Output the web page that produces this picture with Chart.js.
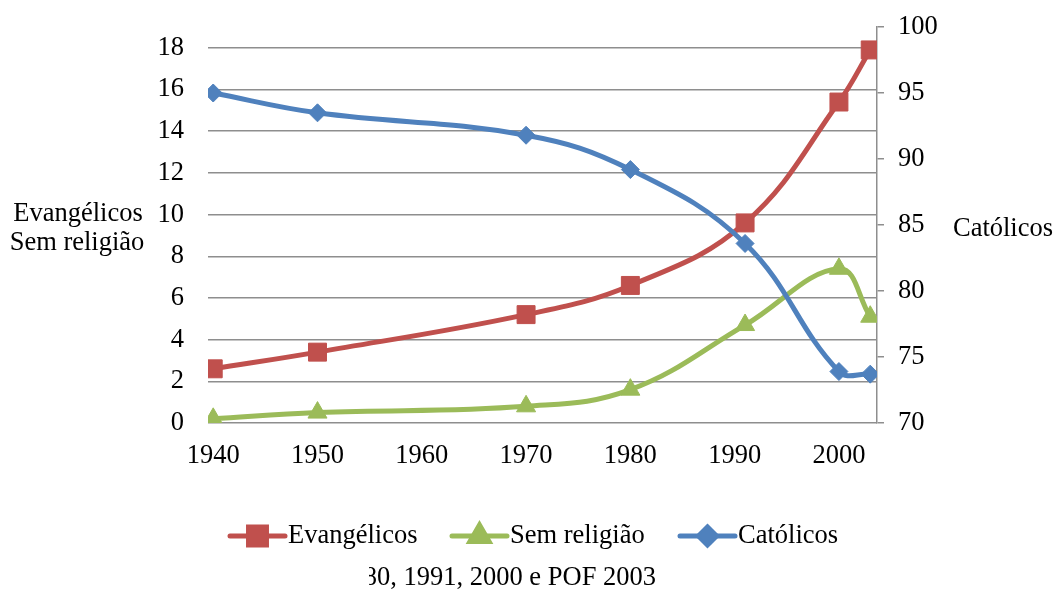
<!DOCTYPE html>
<html><head><meta charset="utf-8">
<style>html,body{margin:0;padding:0;background:#fff;} #wrap{width:1058px;height:592px;position:relative;}</style>
<script src="https://cdn.jsdelivr.net/npm/chart.js@4.4.1/dist/chart.umd.min.js"></script>
</head><body><div id="wrap"><canvas id="c" width="1058" height="592"></canvas></div>
<script>
const years = [1940, 1950, 1970, 1980, 1991, 2000, 2003];
const evangelicos = [2.6, 3.4, 5.2, 6.6, 9.6, 15.4, 17.9];
const semReligiao = [0.2, 0.5, 0.8, 1.6, 4.7, 7.4, 5.1];
const catolicos = [95.0, 93.5, 91.8, 89.2, 83.6, 73.9, 73.7];
const xTicks = [1940, 1950, 1960, 1970, 1980, 1990, 2000];
const leftTicks = [0, 2, 4, 6, 8, 10, 12, 14, 16, 18];
const rightTicks = [70, 75, 80, 85, 90, 95, 100];
const seriesNames = ['Evangélicos', 'Sem religião', 'Católicos'];
const leftTitle = ['Evangélicos', 'Sem religião'];
const rightTitle = 'Católicos';
const sourceNote = '80, 1991, 2000 e POF 2003';

const RED = '#C0504D', GREEN = '#9BBB59', BLUE = '#4F81BD', GRID = '#8e8e8e';
const FONT = '"Liberation Serif", "Times New Roman", serif';
const FS = 26.5;

function pts(vals) { return years.map((y, i) => ({ x: y, y: vals[i] })); }

const styles = [
  { color: RED, pointStyle: 'rect', radius: 12.7 },
  { color: GREEN, pointStyle: 'triangle', radius: 11 },
  { color: BLUE, pointStyle: 'rectRot', radius: 9 }
];

function ds(label, vals, st, axis, order) {
  return {
    label, data: pts(vals), yAxisID: axis, order,
    borderColor: st.color, backgroundColor: st.color, borderWidth: 5,
    pointStyle: st.pointStyle, pointRadius: st.radius, pointHoverRadius: st.radius,
    pointBorderWidth: 1, pointBackgroundColor: st.color, pointBorderColor: st.color,
    tension: 0.4, fill: false
  };
}

function noPad(s) { s.paddingTop = 0; s.paddingBottom = 0; s.paddingLeft = 0; s.paddingRight = 0; }

const extras = {
  id: 'extras',
  afterDraw(chart) {
    const ctx = chart.ctx;
    ctx.save();
    ctx.fillStyle = '#000';
    ctx.font = FS + 'px ' + FONT;
    ctx.textBaseline = 'middle';
    ctx.textAlign = 'center';
    ctx.fillText(leftTitle[0], 78, 214);
    ctx.fillText(leftTitle[1], 77, 243);
    ctx.fillText(rightTitle, 1003, 229);
    // legend
    const lx = [[230, 285, 288], [452, 507, 510], [680, 735, 738]];
    const ly = 536;
    ctx.textAlign = 'left';
    for (let i = 0; i < 3; i++) {
      const st = styles[i];
      ctx.strokeStyle = st.color; ctx.lineWidth = 5; ctx.lineCap = 'round';
      ctx.beginPath(); ctx.moveTo(lx[i][0], ly); ctx.lineTo(lx[i][1], ly); ctx.stroke();
      ctx.fillStyle = st.color;
      Chart.helpers.drawPoint(ctx, { pointStyle: st.pointStyle, radius: st.radius, borderWidth: 1, rotation: 0 }, (lx[i][0] + lx[i][1]) / 2, ly);
      ctx.fill();
      ctx.fillStyle = '#000';
      ctx.fillText(seriesNames[i], lx[i][2], ly);
    }
    // source note (left edge cropped as in the reference)
    const w = ctx.measureText(sourceNote).width;
    const sx = 656 - w;
    ctx.beginPath(); ctx.rect(369, 555, 400, 40); ctx.clip();
    ctx.fillText(sourceNote, sx, 578);
    ctx.restore();
  }
};

new Chart(document.getElementById('c'), {
  type: 'line',
  data: {
    datasets: [
      ds(seriesNames[0], evangelicos, styles[0], 'yL', 3),
      ds(seriesNames[1], semReligiao, styles[1], 'yL', 2),
      ds(seriesNames[2], catolicos, styles[2], 'yR', 1)
    ]
  },
  options: {
    responsive: false, animation: false, devicePixelRatio: 1,
    layout: { padding: { top: 27, bottom: 109, left: 0, right: 0 } },
    plugins: { legend: { display: false }, tooltip: { enabled: false } },
    scales: {
      x: {
        type: 'linear', min: 1939.5, max: 2003.65,
        afterBuildTicks: s => { s.ticks = xTicks.map(v => ({ value: v })); },
        afterFit: s => { s.height = 60; noPad(s); },
        grid: { display: false }, border: { display: false },
        ticks: { color: '#000', font: { family: FONT, size: FS }, padding: 9, maxRotation: 0, autoSkip: false,
                 callback: v => String(v) }
      },
      yL: {
        position: 'left', min: 0, max: 19,
        afterBuildTicks: s => { s.ticks = leftTicks.map(v => ({ value: v })); },
        afterFit: s => { s.width = 208; noPad(s); },
        grid: { color: GRID, lineWidth: 1.5, drawTicks: false }, border: { display: false },
        ticks: { color: '#000', font: { family: FONT, size: FS }, padding: 24, callback: v => String(v) }
      },
      yR: {
        position: 'right', min: 70, max: 100,
        afterBuildTicks: s => { s.ticks = rightTicks.map(v => ({ value: v })); },
        afterFit: s => { s.width = 181; noPad(s); },
        grid: { drawOnChartArea: false, color: GRID, lineWidth: 1.5, drawTicks: true, tickLength: 7 },
        border: { display: true, color: GRID, width: 1.5 },
        ticks: { color: '#000', font: { family: FONT, size: FS }, padding: 14, callback: v => String(v) }
      }
    }
  },
  plugins: [extras]
});
</script></body></html>
